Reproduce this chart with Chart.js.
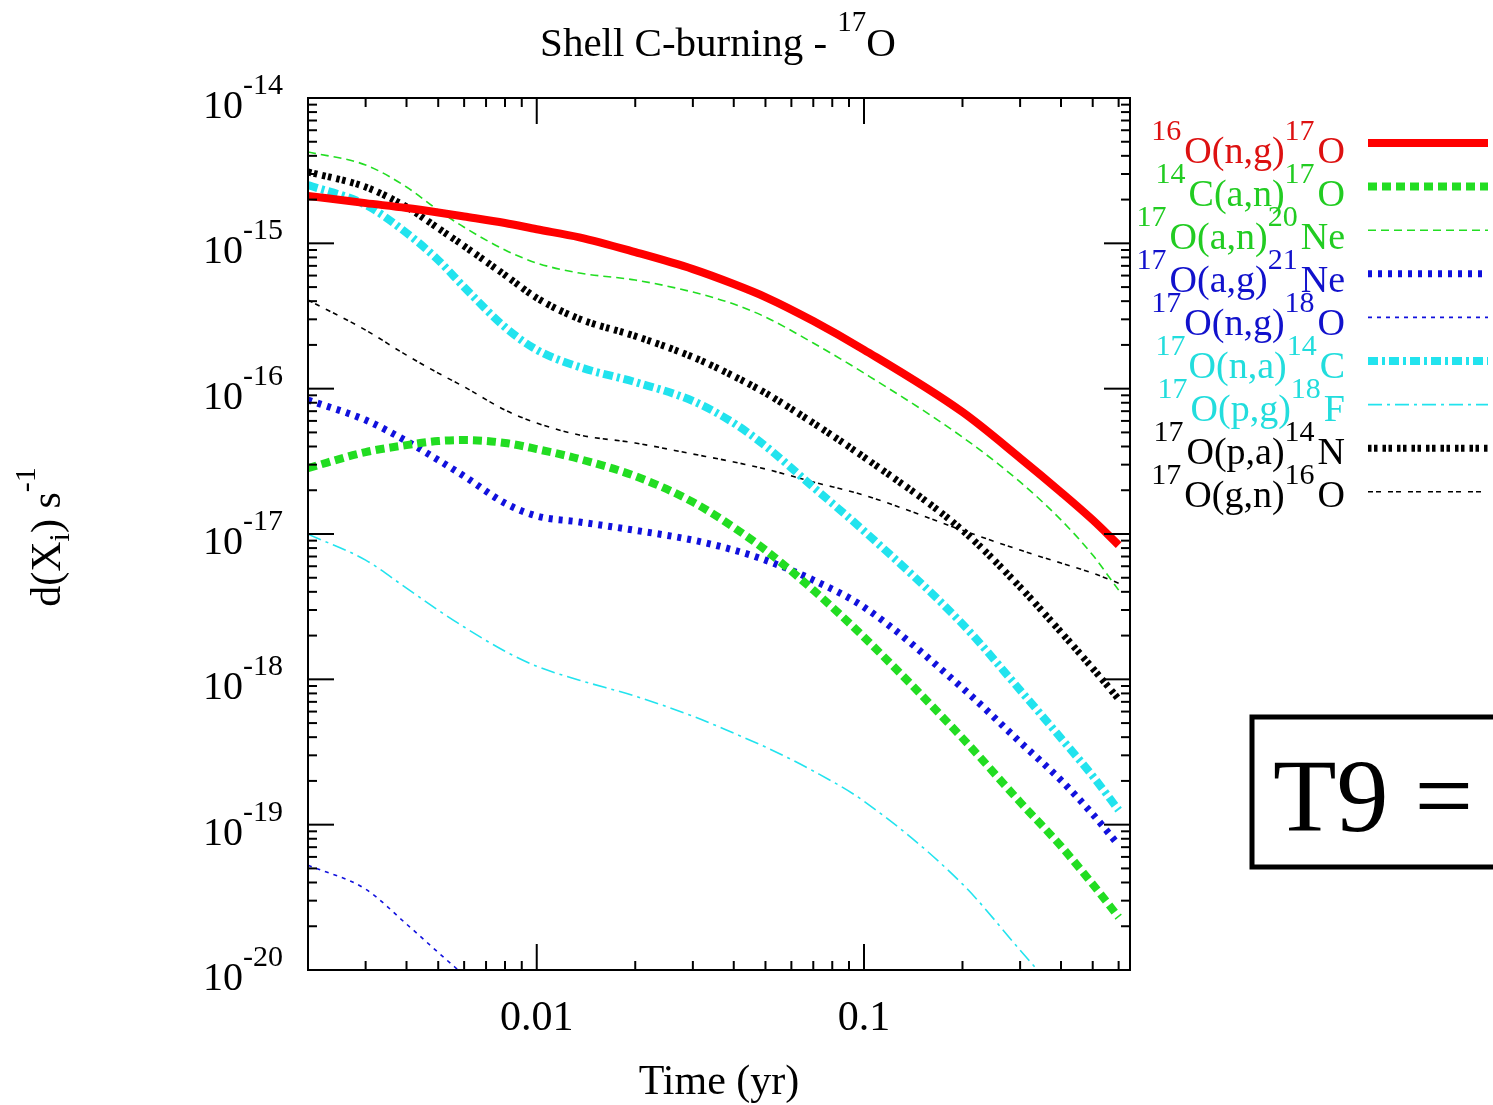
<!DOCTYPE html>
<html><head><meta charset="utf-8">
<script src="https://cdn.jsdelivr.net/npm/chart.js@4.4.1/dist/chart.umd.min.js"></script>
<style>html,body{margin:0;padding:0;background:#fff}#wrap{width:1493px;height:1105px}</style>
</head><body><div id="wrap"><canvas id="c" width="1493" height="1105"></canvas></div>
<script>
// ---- data ----
const times = [0.002,0.003,0.004,0.005,0.006,0.008,0.01,0.0135,0.02,0.03,0.04,0.05,0.07,0.1,0.2,0.3,0.4,0.5,0.6];
const o16ng = [2.12e-15,1.89e-15,1.75e-15,1.63e-15,1.53e-15,1.38e-15,1.25e-15,1.10e-15,8.7e-16,6.65e-16,5.25e-16,4.27e-16,2.92e-16,1.85e-16,6.9e-17,3.33e-17,1.94e-17,1.25e-17,8.4e-18];
const c14an = [2.84e-17,3.66e-17,4.09e-17,4.36e-17,4.43e-17,4.23e-17,3.84e-17,3.28e-17,2.5e-17,1.66e-17,1.11e-17,7.75e-18,4.11e-18,1.95e-18,3.94e-19,1.43e-19,7.11e-20,3.89e-20,2.31e-20];
const o17an = [4.25e-15,3.46e-15,2.44e-15,1.69e-15,1.29e-15,9.0e-16,7.32e-16,6.25e-16,5.59e-16,4.62e-16,3.82e-16,3.11e-16,2.06e-16,1.28e-16,4.64e-17,2.28e-17,1.25e-17,7.16e-18,4.11e-18];
const o17ag = [8.36e-17,6.08e-17,4.36e-17,3.23e-17,2.5e-17,1.63e-17,1.33e-17,1.21e-17,1.06e-17,9.08e-18,7.75e-18,6.61e-18,4.82e-18,3.14e-18,8.71e-19,3.7e-19,2.02e-19,1.18e-19,7.23e-20];
const o17ng = [5.26e-20,3.6e-20,2.07e-20,1.32e-20,9.2e-21,null,null,null,null,null,null,null,null,null,null,null,null,null,null];
const o17na = [2.52e-15,1.84e-15,1.18e-15,7.67e-16,5.0e-16,2.65e-16,1.85e-16,1.41e-16,1.11e-16,8.22e-17,5.8e-17,4.03e-17,2.1e-17,1.05e-17,2.4e-18,8.43e-19,3.94e-19,2.16e-19,1.26e-19];
const o17pg = [9.97e-18,6.61e-18,4.24e-18,2.99e-18,2.29e-18,1.56e-18,1.23e-18,9.87e-19,7.66e-19,5.58e-19,4.26e-19,3.42e-19,2.34e-19,1.45e-19,3.9e-20,1.37e-20,6.5e-21,null,null];
const o17pa = [3.1e-15,2.44e-15,1.78e-15,1.27e-15,9.58e-16,6.05e-16,4.21e-16,3.02e-16,2.3e-16,1.65e-16,1.22e-16,9.33e-17,5.8e-17,3.38e-17,1.06e-17,4.31e-18,2.11e-18,1.19e-18,7.31e-19];
const o17gn = [4.07e-16,2.53e-16,1.7e-16,1.28e-16,1.03e-16,7.13e-17,5.8e-17,4.8e-17,4.23e-17,3.55e-17,3.13e-17,2.8e-17,2.28e-17,1.85e-17,1.06e-17,7.75e-18,6.31e-18,5.38e-18,4.59e-18];

const seriesNames = ['¹⁶O(n,g)¹⁷O','¹⁴C(a,n)¹⁷O','¹⁷O(a,n)²⁰Ne','¹⁷O(a,g)²¹Ne','¹⁷O(n,g)¹⁸O','¹⁷O(n,a)¹⁴C','¹⁷O(p,g)¹⁸F','¹⁷O(p,a)¹⁴N','¹⁷O(g,n)¹⁶O'];
const legendParts = [
  [['16',1],['O(n,g)',0],['17',1],['O',0]],
  [['14',1],['C(a,n)',0],['17',1],['O',0]],
  [['17',1],['O(a,n)',0],['20',1],['Ne',0]],
  [['17',1],['O(a,g)',0],['21',1],['Ne',0]],
  [['17',1],['O(n,g)',0],['18',1],['O',0]],
  [['17',1],['O(n,a)',0],['14',1],['C',0]],
  [['17',1],['O(p,g)',0],['18',1],['F',0]],
  [['17',1],['O(p,a)',0],['14',1],['N',0]],
  [['17',1],['O(g,n)',0],['16',1],['O',0]]
];
const xMajor = [0.01, 0.1];
const xMajorLabels = ['0.01', '0.1'];
const xMinor = [0.003,0.004,0.005,0.006,0.007,0.008,0.009,0.02,0.03,0.04,0.05,0.06,0.07,0.08,0.09,0.2,0.3,0.4,0.5,0.6];
const yExponents = [-14,-15,-16,-17,-18,-19,-20];

// ---- styles ----
const RED='#ff0000', GREEN='#22dd22', BLUE='#1111dd', CYAN='#22e3ee', BLACK='#000000';
const styles = [
  {c:RED, w:8, d:[], tc:'#dd1111'},
  {c:GREEN, w:8, d:[9,5], tc:'#22cc22'},
  {c:GREEN, w:1.6, d:[8,5], tc:'#22cc22'},
  {c:BLUE, w:7, d:[4,6], tc:'#1111cc'},
  {c:BLUE, w:1.6, d:[4,5], tc:'#1111cc'},
  {c:CYAN, w:8, d:[10,4,3,4], tc:'#22dddd'},
  {c:CYAN, w:1.6, d:[14,5,3,5], tc:'#22dddd'},
  {c:BLACK, w:7, d:[3.5,2.5,3.5,5], tc:'#000'},
  {c:BLACK, w:1.6, d:[5,3,5,7], tc:'#000'}
];
const seriesData = [o16ng,c14an,o17an,o17ag,o17ng,o17na,o17pg,o17pa,o17gn];
const SERIF = "'Liberation Serif','Times New Roman',Times,serif";

function supSize(size, o){ return o.sup || Math.round(size*0.74); }
function richWidth(ctx, parts, size, o){
  let w=0;
  for(const [t,k] of parts){ ctx.font = (k? supSize(size,o):size)+'px '+SERIF; w+=ctx.measureText(t).width + (k===1? (o.gap||0):0); }
  return w;
}
function drawRich(ctx, parts, x, y, size, align, color, o){
  o = o || {};
  const w = richWidth(ctx, parts, size, o);
  let cx = align==='right'? x-w : align==='center'? x-w/2 : x;
  ctx.fillStyle=color; ctx.textAlign='left'; ctx.textBaseline='alphabetic';
  for(const [t,k] of parts){
    const s = k? supSize(size,o):size;
    ctx.font = s+'px '+SERIF;
    const dy = k===1? -size*0.6 : k===2? size*0.22 : 0;
    ctx.fillText(t, cx, y+dy);
    cx += ctx.measureText(t).width + (k===1? (o.gap||0):0);
  }
}

const decor = {
  id:'decor',
  beforeDraw(chart){
    const ctx=chart.ctx; ctx.save(); ctx.fillStyle='#fff'; ctx.fillRect(0,0,chart.width,chart.height); ctx.restore();
  },
  afterDraw(chart){
    const ctx=chart.ctx, a=chart.chartArea, xs=chart.scales.x, ys=chart.scales.y;
    ctx.save();
    ctx.strokeStyle='#000'; ctx.lineWidth=2; ctx.setLineDash([]);
    ctx.strokeRect(a.left, a.top, a.right-a.left, a.bottom-a.top);
    const tick=(x1,y1,x2,y2)=>{ctx.beginPath();ctx.moveTo(x1,y1);ctx.lineTo(x2,y2);ctx.stroke();};
    ctx.lineWidth=2;
    for(const v of xMajor){const p=xs.getPixelForValue(v); tick(p,a.bottom,p,a.bottom-26); tick(p,a.top,p,a.top+26);}
    for(const v of xMinor){const p=xs.getPixelForValue(v); tick(p,a.bottom,p,a.bottom-9); tick(p,a.top,p,a.top+9);}
    for(const e of yExponents){
      const p=ys.getPixelForValue(Math.pow(10,e)); tick(a.left,p,a.left+26,p); tick(a.right,p,a.right-26,p);
      if(e>-20){ for(let m=2;m<=9;m++){ const q=ys.getPixelForValue(m*Math.pow(10,e-1)); tick(a.left,q,a.left+9,q); tick(a.right,q,a.right-9,q);} }
    }
    for(const e of yExponents){
      const p=ys.getPixelForValue(Math.pow(10,e));
      drawRich(ctx, [['10',0],[String(e),1]], 203, p+20, 40, 'left', '#000', {sup:30});
    }
    xMajor.forEach((v,i)=>{
      const p=xs.getPixelForValue(v);
      drawRich(ctx, [[xMajorLabels[i],0]], p, 1030, 42, 'center', '#000');
    });
    drawRich(ctx, [['Time (yr)',0]], 719, 1094, 42, 'center', '#000');
    ctx.save(); ctx.translate(60,537); ctx.rotate(-Math.PI/2);
    drawRich(ctx, [['d(X',0],['i',2],[') s',0],['-1',1]], 0, 0, 42, 'center', '#000', {sup:30});
    ctx.restore();
    drawRich(ctx, [['Shell C-burning - ',0],['17',1],['O',0]], 718, 56, 41, 'center', '#000', {sup:29});
    for(let i=0;i<legendParts.length;i++){
      const by = 163 + 43*i, st=styles[i], sy = 143 + 43.6*i;
      drawRich(ctx, legendParts[i], 1345, by, 38, 'right', st.tc, {sup:30, gap:3});
      ctx.strokeStyle=st.c; ctx.lineWidth=st.w; ctx.setLineDash(st.d); ctx.lineCap='butt';
      ctx.beginPath(); ctx.moveTo(1368, sy); ctx.lineTo(1488, sy); ctx.stroke();
    }
    ctx.setLineDash([]);
    ctx.strokeStyle='#000'; ctx.lineWidth=5;
    ctx.strokeRect(1252, 717, 300, 150);
    ctx.fillStyle='#000'; ctx.font='104px '+SERIF; ctx.textAlign='left'; ctx.textBaseline='alphabetic';
    ctx.fillText('T9 =', 1273, 831);
    ctx.restore();
  }
};

const datasets = seriesData.map((arr,i)=>({
  label: seriesNames[i],
  data: times.map((t,j)=>({x:t, y:arr[j]})),
  borderColor: styles[i].c,
  borderWidth: styles[i].w,
  borderDash: styles[i].d,
  borderCapStyle: 'butt',
  pointRadius: 0,
  fill: false,
  cubicInterpolationMode: 'monotone',
  spanGaps: false
}));

new Chart(document.getElementById('c'), {
  type: 'line',
  data: { datasets },
  options: {
    responsive: false, animation: false, devicePixelRatio: 1,
    layout: { padding: { left: 308, top: 98, right: 363, bottom: 135 } },
    plugins: { legend: { display: false }, title: { display: false }, tooltip: { enabled: false } },
    scales: {
      x: { type: 'logarithmic', min: 0.002, max: 0.65, display: false },
      y: { type: 'logarithmic', min: 1e-20, max: 1e-14, display: false }
    }
  },
  plugins: [decor]
});
</script></body></html>
